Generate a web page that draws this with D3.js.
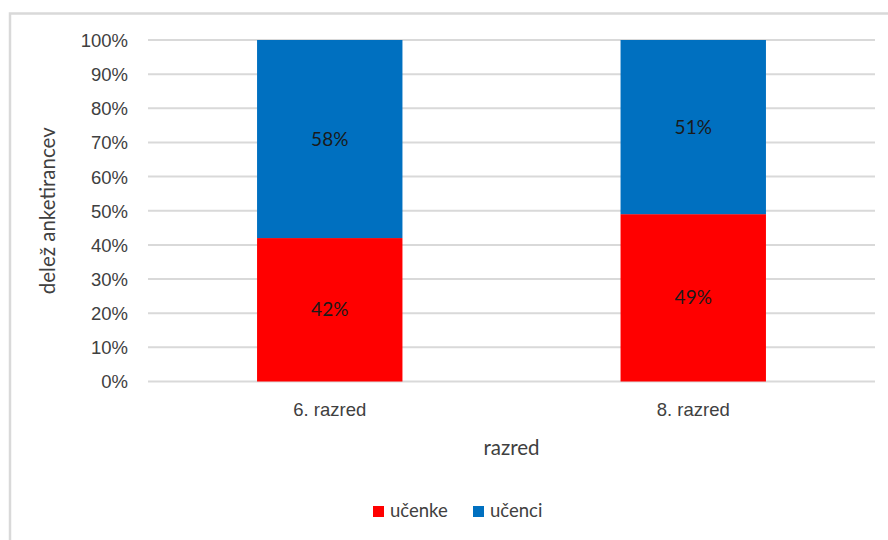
<!DOCTYPE html>
<html lang="sl">
<head>
<meta charset="utf-8">
<title>Delež anketirancev po razredu</title>
<script src="https://cdn.jsdelivr.net/npm/d3@7"></script>
<style>
  body { margin: 0; background: #fff; }
  svg { font-family: Lato, "Open Sans", sans-serif; }
  .grid line { stroke: #d9d9d9; stroke-width: 2; }
  .tick text { fill: #404040; font-size: 18.5px; }
  .axis-title { fill: #404040; font-size: 20.5px; }
  .lab { fill: #1a1a1a; font-size: 19px; }
</style>
</head>
<body>
<script>
// data
var categories = ["6. razred", "8. razred"];
var seriesNames = ["učenke", "učenci"];
var ucenke = [42, 49];
var ucenci = [58, 51];
var yTicks = [0, 10, 20, 30, 40, 50, 60, 70, 80, 90, 100];
var colors = ["#ff0000", "#0070c0"];

var w = 888, h = 540;
var plotLeft = 148, plotRight = 875, plotTop = 40, plotBottom = 381.5;

var svg = d3.select("body").append("svg")
    .attr("width", w)
    .attr("height", h);

// chart frame (runs off the right/bottom edge like the original)
svg.append("rect")
    .attr("x", 10).attr("y", 13.5)
    .attr("width", 900).attr("height", 560)
    .attr("fill", "none")
    .attr("stroke", "#d9d9d9")
    .attr("stroke-width", 2.5);

var x = d3.scaleBand()
    .domain(categories)
    .range([plotLeft, plotRight]);

var y = d3.scaleLinear()
    .domain([0, 100])
    .range([plotBottom, plotTop]);

// grid lines
svg.append("g").attr("class", "grid")
    .selectAll("line")
    .data(yTicks)
    .enter().append("line")
    .attr("x1", plotLeft).attr("x2", plotRight)
    .attr("y1", function(d) { return y(d); })
    .attr("y2", function(d) { return y(d); });

// y axis labels
var yAxis = d3.axisLeft(y)
    .tickValues(yTicks)
    .tickFormat(function(d) { return d + "%"; })
    .tickSize(0)
    .tickPadding(20);

svg.append("g")
    .attr("transform", "translate(" + plotLeft + ",0)")
    .call(yAxis)
    .call(function(g) { g.select(".domain").remove(); })
    .selectAll("text").attr("dy", "0.35em").style("font-family", "inherit");

// x axis labels
var xAxis = d3.axisBottom(x).tickSize(0).tickPadding(21);
svg.append("g")
    .attr("transform", "translate(0," + plotBottom + ")")
    .call(xAxis)
    .call(function(g) { g.select(".domain").remove(); })
    .selectAll("text").style("font-family", "inherit");

// stacked data
var rows = categories.map(function(c, i) {
    return { cat: c, "učenke": ucenke[i], "učenci": ucenci[i] };
});
var stack = d3.stack().keys(seriesNames)(rows);

var barW = x.bandwidth() * 0.4;

var layers = svg.selectAll(".layer")
    .data(stack)
    .enter().append("g")
    .attr("class", "layer")
    .attr("fill", function(d, i) { return colors[i]; });

layers.selectAll("rect")
    .data(function(d) { return d; })
    .enter().append("rect")
    .attr("x", function(d) { return x(d.data.cat) + (x.bandwidth() - barW) / 2; })
    .attr("width", barW)
    .attr("y", function(d) { return y(d[1]); })
    .attr("height", function(d) { return y(d[0]) - y(d[1]); });

layers.selectAll("text")
    .data(function(d) { return d; })
    .enter().append("text")
    .attr("class", "lab")
    .attr("text-anchor", "middle")
    .attr("dy", "0.35em")
    .attr("x", function(d) { return x(d.data.cat) + x.bandwidth() / 2; })
    .attr("y", function(d) { return y((d[0] + d[1]) / 2); })
    .text(function(d) { return (d[1] - d[0]) + "%"; });

// axis titles
svg.append("text")
    .attr("class", "axis-title")
    .attr("text-anchor", "middle")
    .attr("transform", "translate(55," + ((plotTop + plotBottom) / 2) + ") rotate(-90)")
    .text("delež anketirancev");

svg.append("text")
    .attr("class", "axis-title")
    .attr("text-anchor", "middle")
    .attr("x", (plotLeft + plotRight) / 2)
    .attr("y", 455)
    .text("razred");

// legend
var legend = svg.append("g").attr("transform", "translate(373,511)");
var legX = [0, 100];
seriesNames.forEach(function(name, i) {
    legend.append("rect")
        .attr("x", legX[i]).attr("y", -5)
        .attr("width", 11).attr("height", 11)
        .attr("fill", colors[i]);
    legend.append("text")
        .attr("x", legX[i] + 17)
        .attr("y", 0)
        .attr("dy", "0.35em")
        .style("font-size", "18.5px")
        .style("fill", "#404040")
        .text(name);
});
</script>
</body>
</html>
